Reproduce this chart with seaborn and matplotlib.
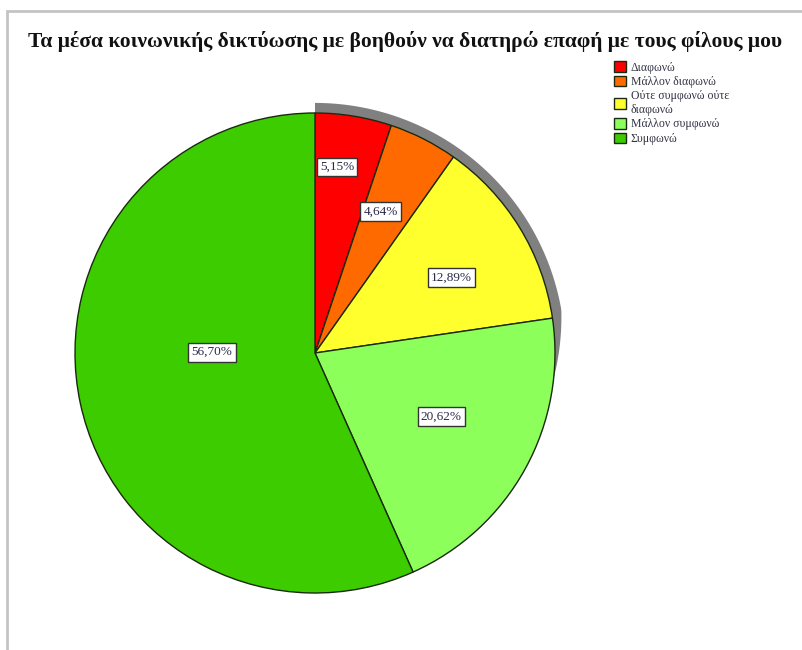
import numpy as np
import matplotlib
matplotlib.use("Agg")
import matplotlib.pyplot as plt
import seaborn as sns
from matplotlib.patches import Polygon, Rectangle

# Responses (percent of respondents)
categories = ["Διαφωνώ", "Μάλλον διαφωνώ", "Ούτε συμφωνώ ούτε\nδιαφωνώ",
              "Μάλλον συμφωνώ", "Συμφωνώ"]
percentages = [5.15, 4.64, 12.89, 20.62, 56.70]
colors = ["#ff0000", "#ff6a00", "#ffff2e", "#8cff5a", "#3dcc00"]
title = "Τα μέσα κοινωνικής δικτύωσης με βοηθούν να διατηρώ επαφή με τους φίλους μου"

sns.set_theme(style="white")
plt.rcParams["font.family"] = ["Liberation Serif", "DejaVu Serif"]

W, H = 802, 650
fig = plt.figure(figsize=(W / 100, H / 100), dpi=100)
fig.patch.set_facecolor("white")

# outer chart frame (left and top edges visible)
fig.add_artist(Rectangle((7 / W, -0.05), 1.2, 1.05 - 11 / H,
                         transform=fig.transFigure, fill=False,
                         edgecolor="#c4c4c4", linewidth=2))

cx, cy, R = 315, H - 353, 240
ax = fig.add_axes([(cx - R) / W, (cy - R) / H, 2 * R / W, 2 * R / H])
ax.set_aspect("equal")
ax.axis("off")

# depth band behind the upper-right part of the pie, tapering at its lower end
ang = np.linspace(90, -6, 200)
rad = np.where(ang > 10, 1.042, 1.0 + 0.042 * np.clip((ang + 6) / 16, 0, 1))
outer = np.column_stack([rad * np.cos(np.deg2rad(ang)), rad * np.sin(np.deg2rad(ang))])
inner = np.column_stack([0.98 * np.cos(np.deg2rad(ang[::-1])),
                         0.98 * np.sin(np.deg2rad(ang[::-1]))])
ax.add_patch(Polygon(np.vstack([outer, inner]), closed=True, facecolor="#808080",
                     edgecolor="none", zorder=0, clip_on=False))

wedges, _ = ax.pie(percentages, colors=colors, startangle=90, counterclock=False,
                   radius=1.0, center=(0, 0), frame=False,
                   wedgeprops=dict(edgecolor="#1a2a10", linewidth=1.0, zorder=2))
for w in wedges:
    w.set_clip_on(False)
ax.set_xlim(-1, 1)
ax.set_ylim(-1, 1)

# label placement: radius fraction and angular shift from each slice middle
label_r = [0.78, 0.65, 0.65, 0.59, 0.43]
label_shift = [2.5, 2.0, -2.5, 2.0, -12.5]
for w, p, r, s in zip(wedges, percentages, label_r, label_shift):
    mid = np.deg2rad((w.theta1 + w.theta2) / 2 + s)
    txt = f"{p:.2f}%".replace(".", ",")
    ax.text(r * np.cos(mid), r * np.sin(mid), txt, ha="center", va="center",
            fontsize=9.5, color="#2a2a4a", zorder=5,
            bbox=dict(boxstyle="square,pad=0.25", facecolor="white",
                      edgecolor="#333333", linewidth=1.0))

fig.text(405 / W, 1 - 42 / H, title, ha="center", va="center",
         fontsize=15.5, fontweight="bold", color="#111111")

leg = fig.legend(wedges, categories, loc="upper left",
                 bbox_to_anchor=(606 / W, 1 - 53 / H), frameon=False,
                 fontsize=8.5, handlelength=1.0, handleheight=1.0,
                 handletextpad=0.4, labelspacing=0.18, borderpad=0.2)
for t in leg.get_texts():
    t.set_color("#333344")

fig.savefig("out.png", dpi=100, facecolor="white")
